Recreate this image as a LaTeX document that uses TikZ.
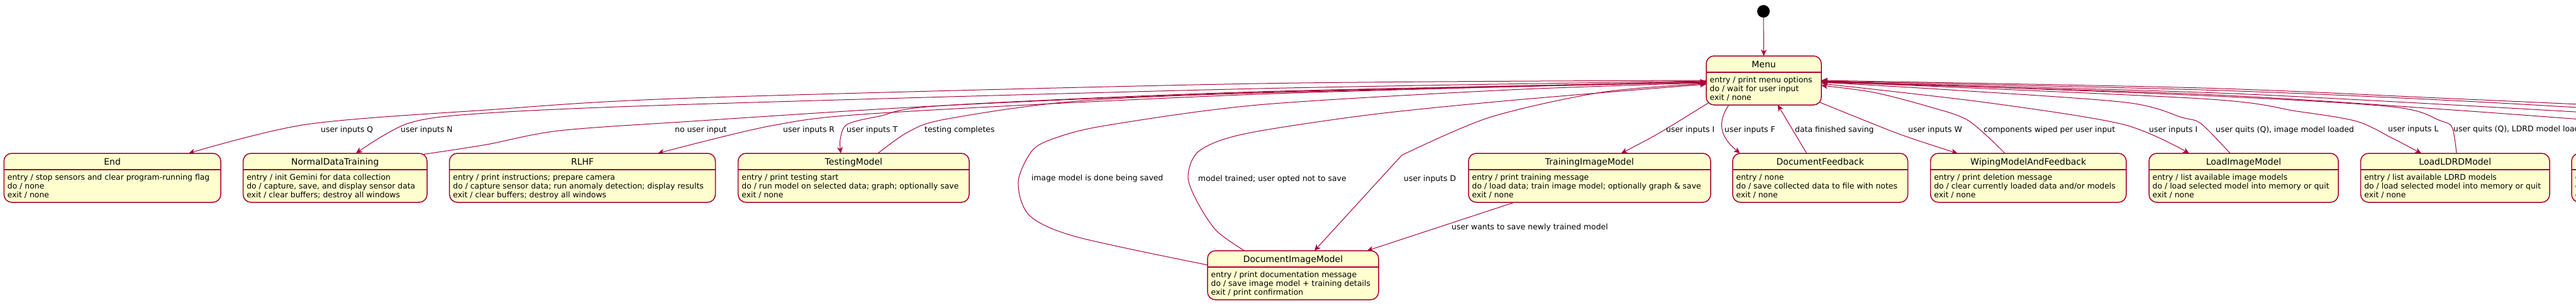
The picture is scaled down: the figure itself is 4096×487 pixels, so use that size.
\documentclass[tikz,border=0pt]{standalone}
\usepackage{fontspec}
\setmainfont{DejaVu Sans}
\usetikzlibrary{arrows.meta}
\definecolor{umlred}{HTML}{A80036}
\definecolor{umlfill}{HTML}{FEFECE}
\pgfdeclarelayer{bg}
\pgfsetlayers{bg,main}
\newcommand\bodyfnt{\fontsize{12.4pt}{14pt}\selectfont}
\newcommand\titlefnt{\fontsize{14pt}{16pt}\selectfont}
\tikzset{
  statebox/.style={draw=umlred, fill=umlfill, line width=1.5pt, rounded corners=12.5pt, inner sep=0pt, outer sep=0pt},
  sepline/.style={draw=umlred, line width=1.5pt},
  titletext/.style={font=\titlefnt, inner sep=0pt, anchor=base},
  bodytext/.style={font=\bodyfnt, inner sep=0pt, anchor=base west},
  lbl/.style={font=\bodyfnt, inner sep=0pt, anchor=base west},
  trans/.style={draw=umlred, line width=1pt, -{Stealth[length=10pt,width=9pt,inset=3pt]}},
  initdot/.style={circle, fill=black, minimum size=20pt, inner sep=0pt, outer sep=0pt},
}
\newcommand{\umlstate}[8]{%
  \node[statebox, minimum width={#4-#2}, minimum height=78] (#1) at ({(#2+#4)/2},{#3+39}) {};
  \draw[sepline] ([yshift=13pt]#1.west) -- ([yshift=13pt]#1.east);
  \node[titletext] (#1-t) at ([yshift=21pt]#1.center) {#5};
  \node[bodytext] (#1-a) at ([xshift=5.5pt,yshift=-3pt]#1.west) {#6};
  \node[bodytext] (#1-b) at ([xshift=5.5pt,yshift=-17pt]#1.west) {#7};
  \node[bodytext] (#1-c) at ([xshift=5.5pt,yshift=-31pt]#1.west) {#8};
}
\begin{document}
\begin{tikzpicture}[x=1pt,y=-1pt]
\useasboundingbox (0,0) rectangle (4096,487);
\begin{pgfonlayer}{bg}
\fill[white] (0,0) rectangle (4096,487);
\end{pgfonlayer}
\clip (0,0) rectangle (4096,487);

% states
\node[initdot] (start) at (2804,18) {};
\umlstate{Menu}{2713}{89}{2896}{Menu}{entry / print menu options}{do / wait for user input}{exit / none}
\umlstate{End}{6.25}{244}{351}{End}{entry / stop sensors and clear program-running flag}{do / none}{exit / none}
\umlstate{NDT}{386.6}{244}{679}{NormalDataTraining}{entry / init Gemini for data collection}{do / capture, save, and display sensor data}{exit / clear buffers; destroy all windows}
\umlstate{RLHF}{714.7}{244}{1137.5}{RLHF}{entry / print instructions; prepare camera}{do / capture sensor data; run anomaly detection; display results}{exit / clear buffers; destroy all windows}
\umlstate{Testing}{1173.7}{244}{1541}{TestingModel}{entry / print testing start}{do / run model on selected data; graph; optionally save}{exit / none}
\umlstate{DIM}{1920}{399}{2192}{DocumentImageModel}{entry / print documentation message}{do / save image model + training details}{exit / print confirmation}
\umlstate{TIM}{2335}{244}{2720}{TrainingImageModel}{entry / print training message}{do / load data; train image model; optionally graph \& save}{exit / none}
\umlstate{DF}{2755}{244}{3033.5}{DocumentFeedback}{entry / none}{do / save collected data to file with notes}{exit / none}
\umlstate{WMAF}{3069.6}{244}{3380.8}{WipingModelAndFeedback}{entry / print deletion message}{do / clear currently loaded data and/or models}{exit / none}
\umlstate{LIM}{3417}{244}{3718}{LoadImageModel}{entry / list available image models}{do / load selected model into memory or quit}{exit / none}
\umlstate{LLM}{3753.6}{244}{4054}{LoadLDRDModel}{entry / list available LDRD models}{do / load selected model into memory or quit}{exit / none}
\umlstate{Next}{4089}{244}{4400}{}{entry}{do}{exit}

\coordinate (far1) at (4300,175);
\coordinate (far2) at (4300,183);
\coordinate (far3) at (4300,190);
\coordinate (far4) at (4300,205);

\begin{pgfonlayer}{bg}
\clip (0,0) rectangle (4096,487);
\draw[trans] (start) -- (Menu.north);
% left bundle
\draw[trans] plot[smooth] coordinates {(Menu.west) (2000,133) (1100,156) (774,175) (487,198) ([xshift=121.4pt]End.north)};
\draw[trans] plot[smooth] coordinates {([yshift=-1pt]Menu.west) (2000,141) (1100,166) (774,180) (650,196) ([xshift=33.2pt]NDT.north)};
\draw[trans] plot[smooth] coordinates {([xshift=-5pt,yshift=-1.5pt]NDT.north east) (774,230) (889,208) (1100,193) (1500,168) (2000,147) ([yshift=-2pt]Menu.west)};
\draw[trans] plot[smooth] coordinates {([yshift=-2pt]Menu.west) (2000,150) (1400,180) (1227,200) ([xshift=119.9pt]RLHF.north)};
\draw[trans] plot[smooth] coordinates {([yshift=-3pt]Menu.west) (2000,146) (1500,168) (1398,185) (1347,198) (1336,222) ([xshift=-20.35pt]Testing.north)};
\draw[trans] plot[smooth] coordinates {([xshift=38.65pt]Testing.north) (1444,210) (1502,190) (1700,162) (2000,148) ([yshift=-3pt]Menu.west)};
\draw[trans] plot[smooth] coordinates {([yshift=16.3pt]DIM.west) (1712,377) (1637,343) (1619,290) (1641,240) (1677,220) (1757,200) (2000,167) (2400,143) ([yshift=-4pt]Menu.west)};
\draw[trans] plot[smooth] coordinates {([xshift=-77.4pt]DIM.north) (1934,367) (1903,320) (1889,280) (1907,240) (1979,213) (2175,183) (2400,160) ([yshift=-6pt]Menu.west)};
\draw[trans] plot[smooth] coordinates {([yshift=-5pt]Menu.west) (2546,147) (2368,187) (2229,247)} -- ([xshift=34pt]DIM.north);
\draw[trans] ([xshift=-119.5pt]TIM.south) -- ([xshift=117.7pt]DIM.north);
% below menu
\draw[trans] plot[smooth] coordinates {([xshift=3pt,yshift=3pt]Menu.south west) (2636,213) ([xshift=50.2pt]TIM.north)};
\draw[trans] ([xshift=-55.5pt]Menu.south) .. controls (2730,195) and (2735,218) .. ([xshift=-127.55pt]DF.north);
\draw[trans] ([xshift=-21.55pt]DF.north) -- ([xshift=22.2pt]Menu.south);
\draw[trans] plot[smooth] coordinates {([xshift=-2pt,yshift=4pt]Menu.south east) (3019,213) ([xshift=-112.7pt]WMAF.north)};
% right bundle
\draw[trans] plot[smooth] coordinates {([xshift=-37.2pt]WMAF.north) (3130,192) (3068,170) (2979,147) ([yshift=-8pt]Menu.east)};
\draw[trans] plot[smooth] coordinates {([yshift=-5pt]Menu.east) (3157,163) (3376,198) ([xshift=-86.7pt]LIM.north)};
\draw[trans] plot[smooth] coordinates {([xshift=-21.5pt]LIM.north) (3500,197) (3470,187) (3380,163) (3100,143) ([yshift=-3pt]Menu.east)};
\draw[trans] plot[smooth] coordinates {([yshift=-2pt]Menu.east) (3500,157) (3652,177) (3747,193) (3804,220) ([xshift=-53.8pt]LLM.north)};
\draw[trans] plot[smooth] coordinates {([xshift=2.2pt]LLM.north) (3899,203) (3880,192) (3804,170) (3500,152) ([yshift=-1pt]Menu.east)};
\draw[trans] plot[smooth] coordinates {(far1) (3900,157) (3500,140) (Menu.east)};
\draw[trans] plot[smooth] coordinates {([yshift=-1pt]Menu.east) (3500,143) (3900,160) (far2)};
\draw[trans] plot[smooth] coordinates {(far3) (3900,167) (3500,147) ([yshift=-2pt]Menu.east)};
\draw[trans] plot[smooth] coordinates {([yshift=-3pt]Menu.east) (3500,150) (3900,175) (far4)};
\end{pgfonlayer}

% labels
\node[lbl] (lQ) at (510,210.5) {user inputs Q};
\node[lbl] (lN) at (637,210.5) {user inputs N};
\node[lbl] (lNo) at (1073,210.5) {no user input};
\node[lbl] (lR) at (1245,210.5) {user inputs R};
\node[lbl] (lT) at (1346,210.5) {user inputs T};
\node[lbl] (lTC) at (1470,210.5) {testing completes};
\node[lbl] (lImg) at (1640,287.5) {image model is done being saved};
\node[lbl] (lMT) at (1905,288) {model trained; user opted not to save};
\node[lbl] (lD) at (2232,288.5) {user inputs D};
\node[lbl] (lSave) at (2308,365) {user wants to save newly trained model};
\node[lbl] (lI1) at (2649,210) {user inputs I};
\node[lbl] (lF) at (2742,210) {user inputs F};
\node[lbl] (lDF) at (2854,210) {data finished saving};
\node[lbl] (lW) at (3034,210.5) {user inputs W};
\node[lbl] (lCW) at (3154,210.5) {components wiped per user input};
\node[lbl] (lI2) at (3417,210.5) {user inputs I};
\node[lbl] (lQI) at (3523,210) {user quits (Q), image model loaded};
\node[lbl] (lL) at (3797,209.5) {user inputs L};
\node[lbl] (lQL) at (3901,209.5) {user quits (Q), LDRD model loaded};
\end{tikzpicture}
\end{document}
